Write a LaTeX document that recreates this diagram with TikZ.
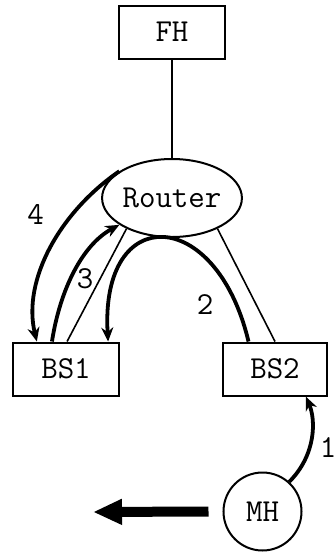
\documentclass[tikz,border=0pt]{standalone}
\usetikzlibrary{arrows.meta,calc,shapes.geometric}
\begin{document}
\begin{tikzpicture}[x=0.5pt,y=-0.5pt,
  font=\ttfamily\fontsize{16}{18}\selectfont,
  boxnode/.style={draw,line width=1pt,inner sep=0pt,minimum width=53pt,minimum height=26.5pt},
  thinline/.style={line width=0.8pt},
  thickarc/.style={line width=1.9pt,-{Stealth[length=7pt,width=6pt]}},
  lbl/.style={inner sep=0pt}]
\useasboundingbox (0,0) rectangle (335,553);
\node[boxnode] (FH) at (172,32) {FH};
\node[draw,ellipse,line width=1pt,inner sep=0pt,minimum width=66pt,minimum height=39pt] (R) at (172,198) {Router};
\node[boxnode] (BS1) at (66,369) {BS1};
\node[boxnode,minimum width=52pt] (BS2) at (275,369) {BS2};
\node[draw,circle,line width=1pt,inner sep=0pt,minimum size=39pt] (MH) at (262.5,511.5) {MH};
% thin links
\draw[thinline] (FH) -- (R);
\draw[thinline] (R.214) -- ($(BS1.north west)!0.51!(BS1.north east)$);
\draw[thinline] (R.326) -- ($(BS2.north west)!0.5!(BS2.north east)$);
% arc 2
\draw[thickarc] ($(BS2.north west)!0.25!(BS2.north east)$) .. controls (216,205) and (100,202) .. ($(BS1.north west)!0.89!(BS1.north east)$);
% arc 3
\draw[thickarc] ($(BS1.north west)!0.37!(BS1.north east)$) .. controls (60,290) and (82,245) .. (R.207);
% arc 4
\draw[thickarc] (R.153) .. controls (60,212) and (22,280) .. ($(BS1.north west)!0.23!(BS1.north east)$);
% arc 1
\draw[thickarc] (MH.48) .. controls (316,455) and (316,420) .. ($(BS2.south west)!0.79!(BS2.south east)$);
% movement arrow
\coordinate (mvend) at (93,512);
\draw[line width=5pt,-{Triangle[length=14.5pt,width=12pt]}] ([xshift=-7pt]MH.west) -- (mvend);
% labels
\node[lbl] (l4) at (35.5,214) {4};
\node[lbl] (l3) at (85,279) {3};
\node[lbl] (l2) at (205,305) {2};
\node[lbl] (l1) at (328,448) {1};
\end{tikzpicture}
\end{document}
